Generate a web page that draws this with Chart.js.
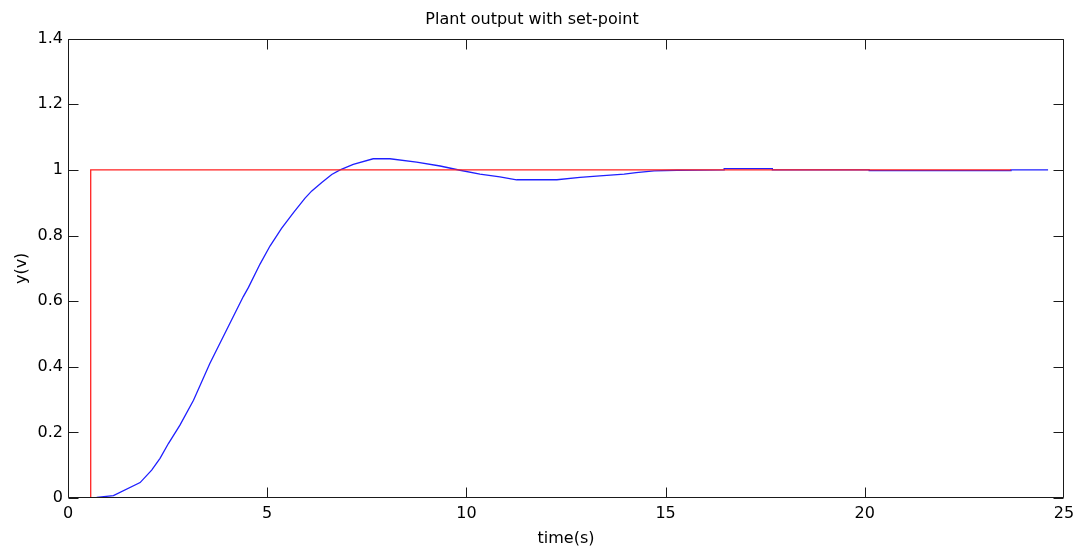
<!DOCTYPE html>
<html>
<head>
<meta charset="utf-8">
<script src="https://cdn.jsdelivr.net/npm/chart.js@4/dist/chart.umd.min.js"></script>
<style>
  html, body { margin: 0; padding: 0; background: #fff; }
  #wrap { width: 1077px; height: 547px; }
</style>
</head>
<body>
<div id="wrap"><canvas id="plot"></canvas></div>
<script>
// set-point (step)
const setTime = [0.57, 0.57, 23.67];
const setValue = [0, 1, 1];

// plant output
const outTime = [0.72, 1.14, 1.81, 2.10, 2.31, 2.52, 2.81, 3.15, 3.56, 3.98, 4.40, 4.53, 4.82, 5.07, 5.36, 5.66, 5.95, 6.12, 6.37, 6.62, 6.83, 7.16, 7.66, 8.08, 8.75, 9.34, 9.84, 10.34, 10.84, 11.26, 12.27, 12.85, 13.35, 13.96, 14.26, 14.71, 15.28, 16.47, 16.47, 17.68, 17.68, 20.11, 20.11, 23.67, 23.67, 24.6];
const outValue = [0.002, 0.007, 0.047, 0.085, 0.121, 0.166, 0.222, 0.298, 0.41, 0.512, 0.614, 0.642, 0.713, 0.768, 0.822, 0.870, 0.914, 0.936, 0.962, 0.986, 1.0, 1.017, 1.034, 1.034, 1.024, 1.012, 0.999, 0.987, 0.979, 0.970, 0.970, 0.977, 0.982, 0.987, 0.992, 0.997, 0.999, 1.0, 1.004, 1.004, 1.0, 1.0, 0.998, 0.998, 1.0, 1.0];

const xTicks = [0, 5, 10, 15, 20, 25];
const yTicks = [0, 0.2, 0.4, 0.6, 0.8, 1, 1.2, 1.4];

const FONT = "'DejaVu Sans', sans-serif";

const toPoints = (xs, ys) => xs.map((x, i) => ({ x: x, y: ys[i] }));

// matlab style box with inward ticks on all four sides
const boxPlugin = {
  id: 'box',
  afterDraw(chart) {
    const { ctx, chartArea: a, scales } = chart;
    const len = 10;
    ctx.save();
    ctx.strokeStyle = '#1a1a1a';
    ctx.lineWidth = 1;
    ctx.beginPath();
    const l = Math.round(a.left) + 0.5, r = Math.round(a.right) - 0.5;
    const t = Math.round(a.top) + 0.5, b = Math.round(a.bottom) - 0.5;
    ctx.rect(l, t, r - l, b - t);
    xTicks.forEach(v => {
      const px = Math.min(Math.round(scales.x.getPixelForValue(v)) + 0.5, r);
      ctx.moveTo(px, b); ctx.lineTo(px, b - len);
      ctx.moveTo(px, t); ctx.lineTo(px, t + len);
    });
    yTicks.forEach(v => {
      const py = Math.max(Math.round(scales.y.getPixelForValue(v)) + 0.5, t);
      ctx.moveTo(l, py); ctx.lineTo(l + len, py);
      ctx.moveTo(r, py); ctx.lineTo(r - len, py);
    });
    ctx.stroke();
    ctx.restore();
  }
};

new Chart(document.getElementById('plot'), {
  type: 'line',
  data: {
    datasets: [
      {
        label: 'set-point',
        data: toPoints(setTime, setValue),
        borderColor: '#ff2020',
        borderWidth: 1.3,
        pointRadius: 0,
        tension: 0,
        fill: false
      },
      {
        label: 'output',
        data: toPoints(outTime, outValue),
        borderColor: '#1f1fff',
        borderWidth: 1.3,
        pointRadius: 0,
        tension: 0,
        fill: false
      }
    ]
  },
  options: {
    responsive: true,
    maintainAspectRatio: false,
    animation: false,
    layout: { padding: { left: 0, right: 13, top: 0, bottom: 0 } },
    plugins: {
      legend: { display: false },
      tooltip: { enabled: false },
      title: {
        display: true,
        text: 'Plant output with set-point',
        color: '#000',
        font: { family: FONT, size: 16, weight: 'normal' },
        padding: { top: 10, bottom: 9.5 }
      }
    },
    scales: {
      x: {
        type: 'linear',
        min: 0,
        max: 25,
        afterBuildTicks: (s) => { s.ticks = xTicks.map(v => ({ value: v })); },
        afterFit: (s) => { s.height = 49; s.paddingLeft = 0; s.paddingRight = 0; },
        grid: { display: false, drawTicks: false },
        border: { display: false },
        ticks: { color: '#000', padding: 6, maxRotation: 0, font: { family: FONT, size: 16 } },
        title: {
          display: true,
          text: 'time(s)',
          color: '#000',
          font: { family: FONT, size: 16 },
          padding: { top: 0, bottom: -1 }
        }
      },
      y: {
        min: 0,
        max: 1.4,
        afterBuildTicks: (s) => { s.ticks = yTicks.map(v => ({ value: v })); },
        afterFit: (s) => { s.width = 68; s.paddingTop = 0; s.paddingBottom = 0; },
        grid: { display: false, drawTicks: false },
        border: { display: false },
        ticks: {
          color: '#000',
          padding: 5,
          font: { family: FONT, size: 16 },
          callback: (v) => String(Math.round(v * 10) / 10)
        },
        title: {
          display: true,
          text: 'y(v)',
          color: '#000',
          font: { family: FONT, size: 16 },
          padding: { top: 12, bottom: 0 }
        }
      }
    }
  },
  plugins: [boxPlugin]
});
</script>
</body>
</html>
